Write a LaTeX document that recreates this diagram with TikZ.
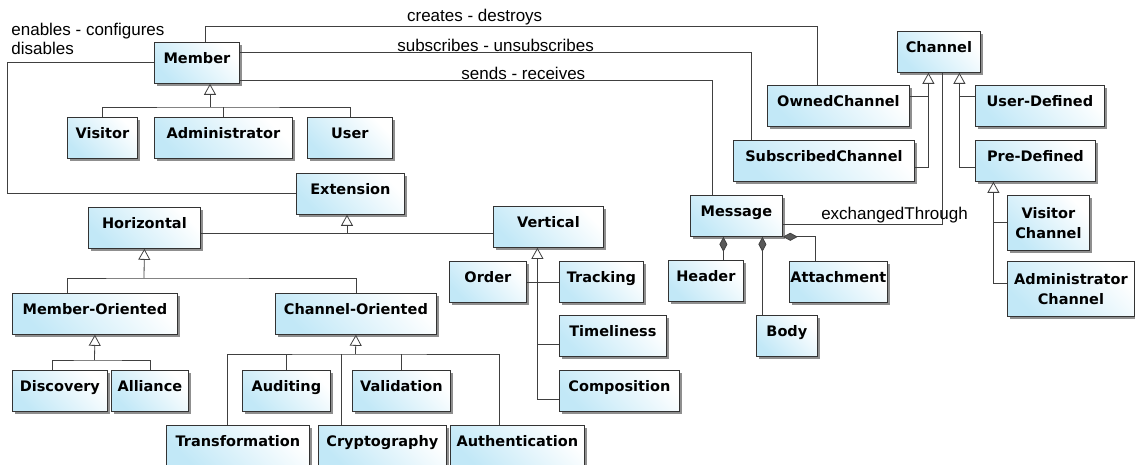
\documentclass[tikz,border=0pt]{standalone}
\usepackage{fontspec}
\setmainfont{Liberation Sans}
\newfontfamily\clsfamily{DejaVu Sans}
\usepackage{tikz}
\usetikzlibrary{arrows.meta,shadows,calc}
\definecolor{clsblue}{RGB}{194,232,247}

\begin{document}
\begin{tikzpicture}[x=1pt, y=-1pt, line width=0.8pt,
	box/.style={draw=black!80, anchor=north west, inner xsep=1pt, inner ysep=0pt, align=center,
		font=\clsfamily\bfseries\fontsize{14.5}{20}\selectfont,
		top color=white, bottom color=clsblue, shading angle=-45,
		drop shadow={shadow xshift=3pt, shadow yshift=-3pt, fill=black!55, opacity=.8}},
	cls/.style={box, text height=21pt, text depth=20pt},
	lbl/.style={font=\fontsize{17}{19}\selectfont, inner sep=1pt},
	link/.style={draw=black!75},
	gen/.style={link, -{Triangle[open, fill=white, length=11pt, width=12pt]}},
	comp/.style={link, -{Diamond[fill=black!65, length=15pt, width=8pt]}}]
	\useasboundingbox (0,0) rectangle (1135,465);

	% members
	\node (member) at (154,42) [cls, minimum width=85pt] {Member};
	\node (visitor) at (67,117) [cls, minimum width=70pt] {Visitor};
	\node (admin) at (154,117) [cls, minimum width=138pt] {Administrator};
	\node (user) at (307,117) [cls, minimum width=85pt] {User};

	% extensions
	\node (extension) at (296,173) [cls, minimum width=108pt] {Extension};
	\node (horizontal) at (88,207) [cls, minimum width=112pt] {Horizontal};
	\node (vertical) at (493,206) [cls, minimum width=110pt] {Vertical};
	\node (memberor) at (12,293) [cls, minimum width=165pt] {Member-Oriented};
	\node (channelor) at (275,293) [cls, minimum width=161pt] {Channel-Oriented};
	\node (discovery) at (12,370) [cls, minimum width=95pt] {Discovery};
	\node (alliance) at (111,370) [cls, minimum width=77pt] {Alliance};
	\node (auditing) at (242,370) [cls, minimum width=88pt] {Auditing};
	\node (validation) at (352,370) [cls, minimum width=98pt] {Validation};
	\node (transformation) at (166,425) [cls, minimum width=143pt] {Transformation};
	\node (cryptography) at (318,425) [cls, minimum width=128pt] {Cryptography};
	\node (authentication) at (450,425) [cls, minimum width=134pt] {Authentication};
	\node (order) at (449,261) [cls, minimum width=77pt] {Order};
	\node (tracking) at (559,261) [cls, minimum width=84pt] {Tracking};
	\node (timeliness) at (559,315) [cls, minimum width=107pt] {Timeliness};
	\node (composition) at (559,370) [cls, minimum width=120pt] {Composition};

	% messages
	\node (message) at (690,195) [cls, minimum width=92pt] {Message};
	\node (header) at (668,260) [cls, minimum width=75pt] {Header};
	\node (body) at (756,315) [cls, minimum width=61pt] {Body};
	\node (attachment) at (789,261) [cls, minimum width=91pt] {Attachment};

	% channels
	\node (channel) at (897,31) [cls, minimum width=83pt] {Channel};
	\node (owned) at (767,85) [cls, minimum width=142pt] {OwnedChannel};
	\node (subscribed) at (733,140) [cls, minimum width=181pt] {SubscribedChannel};
	\node (userdef) at (975,85) [cls, minimum width=129pt] {User-Defined};
	\node (predef) at (975,140) [cls, minimum width=120pt] {Pre-Defined};
	\node (visitorch) at (1007,195) [box, minimum width=82pt, minimum height=55pt] {Visitor\\Channel};
	\node (adminch) at (1007,261) [box, minimum width=127pt, minimum height=55pt] {Administrator\\Channel};

	% member hierarchy
	\coordinate (mj) at (210,107);
	\draw[link] (visitor.north) |- (mj) -| (user.north);
	\draw[link] (admin.north) -- (admin.north |- mj);
	\draw[gen] (mj) -- (mj |- member.south);

	% associations
	\coordinate (lft) at (7,0);
	\node (lenable) at (10,22) [lbl, anchor=north west, align=left] {enables - configures\\disables};
	\draw[link] (member.west) -- (member.west -| lft) |- (extension.west);
	\draw[link] ([xshift=8.5pt]member.north) -- ++(0,-16) -| node[lbl, pos=0.22, above] (lcreate) {creates - destroys} ([xshift=-21pt]owned.north);
	\draw[link] ([yshift=10pt]member.east) -| node[lbl, pos=0.25, above] (lsub) {subscribes - unsubscribes} ([xshift=-72.5pt]subscribed.north);
	\draw[link] ([yshift=-18pt]member.east) -| node[lbl, pos=0.3, above] (lsend) {sends - receives} ([xshift=-24pt]message.north);
	\draw[link] ([xshift=3.5pt]channel.south) |- node[lbl, pos=0.65, above] (lexch) {exchangedThrough} ([yshift=-9pt]message.east);

	% extension hierarchy
	\coordinate (ej) at (347,233);
	\draw[link] (horizontal.east |- ej) -- (vertical.west |- ej);
	\draw[gen] (ej) -- (ej |- extension.south);

	\coordinate (hj) at (144,278);
	\draw[link] ([xshift=-27.5pt]memberor.north) |- (hj) -| (channelor.north);
	\draw[gen] (hj) -- (horizontal.south);

	\coordinate (moj) at (94.5,360);
	\draw[link] ([xshift=-7.5pt]discovery.north) |- (moj) -| (alliance.north);
	\draw[gen] (moj) -- (memberor.south);

	\coordinate (coj) at (355.5,354);
	\draw[link] ([xshift=-10.5pt]transformation.north) |- (coj) -| ([xshift=-18pt]authentication.north);
	\draw[link] (auditing.north) -- (auditing.north |- coj);
	\draw[link] ([xshift=-41pt]cryptography.north) -- ([xshift=-41pt]cryptography.north |- coj);
	\draw[link] (validation.north) -- (validation.north |- coj);
	\draw[gen] (coj) -- (channelor.south);

	\draw[link] (order.east) -- (tracking.west);
	\draw[link] ([yshift=-8.5pt]timeliness.west) -- ++(-22,0);
	\draw[gen] ([yshift=-8.5pt]composition.west) -| ([xshift=-11pt]vertical.south);

	% message parts
	\draw[comp] ([xshift=17.5pt]header.north) -- ([xshift=17.5pt]header.north |- message.south);
	\draw[comp] ([xshift=-24.5pt]body.north) -- ([xshift=-24.5pt]body.north |- message.south);
	\draw[comp] ([xshift=-23.5pt]attachment.north) |- (message.south east);

	% channel hierarchy
	\draw[link] ([yshift=9pt]owned.east) -| ([xshift=-10.5pt]channel.south);
	\draw[gen] ([yshift=-7pt]subscribed.east) -| ([xshift=-10.5pt]channel.south);
	\draw[link] ([yshift=9pt]userdef.west) -| ([xshift=20.5pt]channel.south);
	\draw[gen] ([yshift=-7pt]predef.west) -| ([xshift=20.5pt]channel.south);
	\draw[link] (visitorch.west) -| ([xshift=-42pt]predef.south);
	\draw[gen] ([yshift=5.5pt]adminch.west) -| ([xshift=-42pt]predef.south);
\end{tikzpicture}
\end{document}
